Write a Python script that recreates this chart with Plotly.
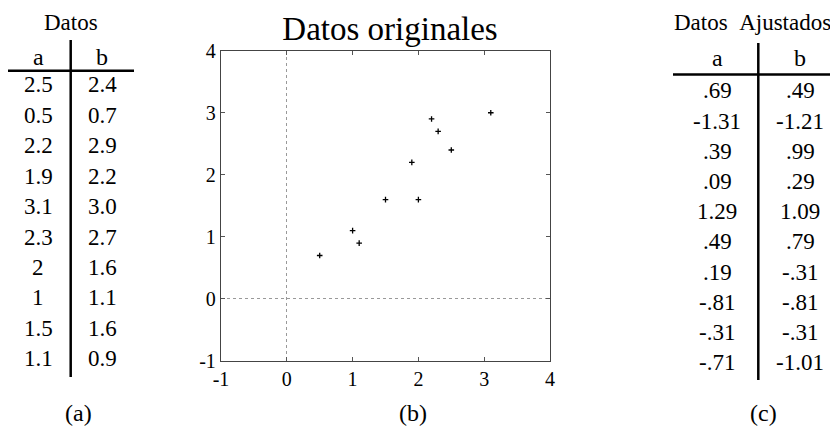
import plotly.graph_objects as go

# ---------------- data ----------------
a_orig = [2.5, 0.5, 2.2, 1.9, 3.1, 2.3, 2.0, 1.0, 1.5, 1.1]
b_orig = [2.4, 0.7, 2.9, 2.2, 3.0, 2.7, 1.6, 1.1, 1.6, 0.9]
a_orig_labels = ["2.5", "0.5", "2.2", "1.9", "3.1", "2.3", "2", "1", "1.5", "1.1"]
b_orig_labels = ["2.4", "0.7", "2.9", "2.2", "3.0", "2.7", "1.6", "1.1", "1.6", "0.9"]
a_adj_labels = [".69", "-1.31", ".39", ".09", "1.29", ".49", ".19", "-.81", "-.31", "-.71"]
b_adj_labels = [".49", "-1.21", ".99", ".29", "1.09", ".79", "-.31", "-.81", "-.31", "-1.01"]
axis_ticks = [-1, 0, 1, 2, 3, 4]
axis_tick_labels = ["-1", "0", "1", "2", "3", "4"]
panel_labels = ["(a)", "(b)", "(c)"]

# page body has an 8px default margin: figure is drawn from (8, 8)
OFF = 8
W, H = 838 - OFF, 430 - OFF
FONT = "Liberation Serif, Times New Roman, Times, serif"


def px(x):
    return (x - OFF) / W


def py(y):
    return 1 - (y - OFF) / H


fig = go.Figure()
fig.add_trace(go.Scatter(
    x=a_orig, y=b_orig, mode="markers",
    marker=dict(symbol="cross-thin", size=4, color="black",
                line=dict(color="black", width=1.3)),
    showlegend=False, hoverinfo="x+y"))

axis_common = dict(
    range=[-1, 4], tickmode="array", tickvals=axis_ticks, ticktext=axis_tick_labels,
    ticks="inside", ticklen=4, tickwidth=1, tickcolor="#555",
    showline=True, linecolor="#444", linewidth=1.3, mirror="ticks",
    showgrid=False, zeroline=False, automargin=False,
    tickfont=dict(family=FONT, size=20, color="black"),
    minor=dict(tickmode="array", tickvals=[0], showgrid=True,
               griddash="dot", gridcolor="#999", gridwidth=1, ticks=""),
)

annotations = []
shapes = []


def table(x_title, title, title_size, x_a, x_b, y_head, labels_a, labels_b,
          y0, dy, hline, vline, title_anchor="center"):
    annotations.append(dict(text=title, x=px(x_title), y=py(22), xref="paper", yref="paper",
                            xanchor=title_anchor, yanchor="middle", showarrow=False,
                            font=dict(family=FONT, size=title_size, color="black")))
    for txt, xx in (("a", x_a), ("b", x_b)):
        annotations.append(dict(text=txt, x=px(xx), y=py(y_head), xref="paper", yref="paper",
                                xanchor="center", yanchor="middle", showarrow=False,
                                font=dict(family=FONT, size=24, color="black")))
    for i, (la, lb) in enumerate(zip(labels_a, labels_b)):
        yy = y0 + dy * i
        for txt, xx in ((la, x_a), (lb, x_b)):
            annotations.append(dict(text=txt, x=px(xx), y=py(yy), xref="paper", yref="paper",
                                    xanchor="center", yanchor="middle", showarrow=False,
                                    font=dict(family=FONT, size=23, color="black")))
    hx0, hx1, hy = hline
    shapes.append(dict(type="line", xref="paper", yref="paper",
                       x0=px(hx0), x1=px(hx1), y0=py(hy), y1=py(hy),
                       line=dict(color="black", width=2.5)))
    vx, vy0, vy1 = vline
    shapes.append(dict(type="line", xref="paper", yref="paper",
                       x0=px(vx), x1=px(vx), y0=py(vy0), y1=py(vy1),
                       line=dict(color="black", width=2.5)))


table(71, "Datos", 23, 38, 102, 57, a_orig_labels, b_orig_labels,
      85, 30.4, (7, 134, 70.7), (70.7, 40, 377))
table(672, "Datos&nbsp;&nbsp;Ajustados", 23, 717, 800, 58, a_adj_labels, b_adj_labels,
      91, 30.2, (673, 840, 74.5), (758.3, 43, 380), title_anchor="left")

for lab, xx in zip(panel_labels, (78, 413, 763)):
    annotations.append(dict(text=lab, x=px(xx), y=py(413), xref="paper", yref="paper",
                            xanchor="center", yanchor="middle", showarrow=False,
                            font=dict(family=FONT, size=24, color="black")))

fig.update_layout(
    width=W, height=H,
    margin=dict(l=0, r=0, t=0, b=0),
    paper_bgcolor="white", plot_bgcolor="white",
    title=dict(text="Datos originales", x=px(390), y=py(28), xref="paper", yref="container",
               xanchor="center", yanchor="middle",
               font=dict(family=FONT, size=33, color="black")),
    xaxis=dict(domain=[px(221), px(550)], **axis_common),
    yaxis=dict(domain=[py(361), py(50.7)], **axis_common),
    annotations=annotations,
    shapes=shapes,
)

fig.write_html("out.html")
